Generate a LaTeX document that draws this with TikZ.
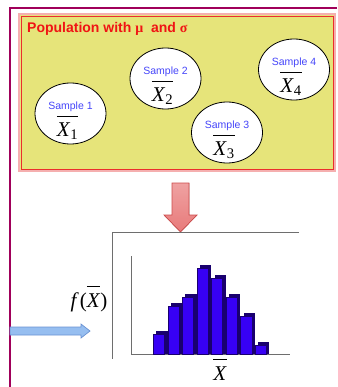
\documentclass[tikz,border=0pt]{standalone}
\usepackage{fontspec}
\setmainfont{Liberation Serif}
\newfontfamily\arialfont{Liberation Sans}
\usepackage{amsmath}
\usepackage{tikz}
\usetikzlibrary{shapes.geometric, arrows.meta, positioning, calc}
\definecolor{framemag}{RGB}{160,0,90}
\definecolor{popfill}{RGB}{230,228,122}
\definecolor{popred}{RGB}{235,45,45}
\definecolor{poppink}{RGB}{245,175,175}
\definecolor{titlered}{RGB}{240,20,20}
\definecolor{smpblue}{RGB}{70,70,250}
\definecolor{arrred}{RGB}{232,122,122}
\definecolor{arrredd}{RGB}{205,75,75}
\definecolor{arrblue}{RGB}{150,190,240}
\definecolor{arrblued}{RGB}{105,145,210}
\definecolor{barfront}{RGB}{55,0,245}
\definecolor{barside}{RGB}{25,0,110}
\definecolor{axisgray}{RGB}{110,110,110}
% X with a raised bar
\newcommand{\xhigh}{\raisebox{0pt}[1.25\height]{\textit{X}}}
\newcommand{\xbarsub}[1]{$\overline{\xhigh_{\text{#1}}}$}
\tikzset{
  smp/.style={ellipse, draw=black, fill=white,
    minimum width=71pt, minimum height=61pt,
    inner sep=0pt, line width=0.8pt},
  smplbl/.style={font=\arialfont\fontsize{10.5}{12}\selectfont,
    text=smpblue, inner sep=0pt},
  xbarlbl/.style={font=\fontsize{21}{23}\selectfont, inner sep=0pt},
  titlelbl/.style={font=\arialfont\bfseries\fontsize{14}{16}\selectfont,
    text=titlered, inner sep=0pt},
  axis/.style={color=axisgray, line width=0.9pt},
  blockarrow/.style={line width=0.7pt, line join=miter}
}

\begin{document}
\begin{tikzpicture}[x=1pt, y=-1pt]
  \useasboundingbox (0,0) rectangle (337,387);

  % Frame
  \draw[framemag, line width=2.5pt] (10,387) -- (10,8) -- (337,8);

  % Population
  \draw[poppink, fill=popfill, line width=1.2pt] (19,14) rectangle (335,171);
  \draw[popred, line width=0.8pt] (21,16) rectangle (333,169);
  \node[titlelbl, anchor=base west] (title) at (27,33)
    {Population with {\rmfamily μ}\ \ and {\rmfamily σ}};

  % Samples
  \foreach \n/\x/\y in {1/70.5/113.5, 2/165.5/78.5, 3/227/132.5, 4/294/69.5}{
    \node[smp] (s\n) at (\x,\y) {};
    \node[smplbl] (sl\n) at ($(s\n)+(0,-7)$) {Sample \n};
    \node[xbarlbl, anchor=base] (xb\n) at ($(s\n)+(-3,23)$) {\xbarsub{\n}};
  }

  % Red arrow
  \coordinate (tip) at (180.5,232);
  \filldraw[blockarrow, top color=arrred!70, bottom color=arrred, draw=arrredd]
    ($(tip)+(-8.5,-49)$) -- ($(tip)+(8.5,-49)$) -- ($(tip)+(8.5,-17)$)
    -- ($(tip)+(16.5,-17)$) -- (tip) -- ($(tip)+(-16.5,-17)$)
    -- ($(tip)+(-8.5,-17)$) -- cycle;

  % Chart
  \coordinate (frm) at (112,232);
  \coordinate (org) at (131,354);
  \draw[axis] (299,232) -- (frm) -- (112,359);
  \draw[axis] (131,256) -- (org) -- (290,354);
  \foreach \h [count=\i from 0] in {23,51,60,89,79,60,41,12}{
    \fill[barside] ($(org)+(22.3+\i*14.55+3,0)$) rectangle ++(11.2,-\h);
    \filldraw[fill=barfront, draw=barside, line width=0.5pt]
      ($(org)+(22.3+\i*14.55,0)$) rectangle ++(11.2,-\h+3);
  }
  \node[font=\fontsize{21}{23}\selectfont, inner sep=0pt, anchor=base] (fx) at (89,307)
    {$\textit{f}\,\text{(}\overline{\xhigh}\text{)}$};
  \node[xbarlbl, anchor=base] (xbar) at (220,380) {$\overline{\xhigh}$};

  % Blue arrow
  \coordinate (btip) at (90,331);
  \filldraw[blockarrow, fill=arrblue, draw=arrblued]
    (10,327) -- ($(btip)+(-9,-4)$) -- ($(btip)+(-9,-7)$) -- (btip)
    -- ($(btip)+(-9,7)$) -- ($(btip)+(-9,4)$) -- (10,335) -- cycle;
\end{tikzpicture}
\end{document}
